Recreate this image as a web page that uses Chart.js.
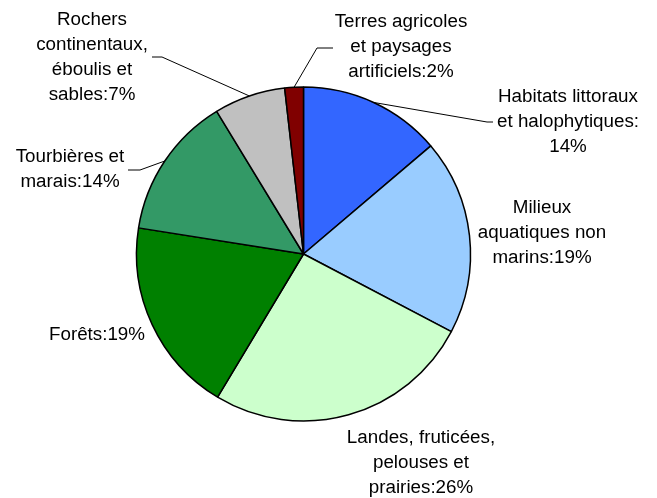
<!DOCTYPE html>
<html>
<head>
<meta charset="utf-8">
<script src="https://cdn.jsdelivr.net/npm/chart.js@4/dist/chart.umd.min.js"></script>
<style>
  html, body { margin: 0; padding: 0; background: #fff; }
  #wrap { width: 657px; height: 498px; }
</style>
</head>
<body>
<div id="wrap"><canvas id="pie" width="657" height="498"></canvas></div>
<script>
// categories, in drawing order (clockwise from 12 o'clock)
const categories = [
    "Habitats littoraux et halophytiques",
    "Milieux aquatiques non marins",
    "Landes, fruticées, pelouses et prairies",
    "Forêts",
    "Tourbières et marais",
    "Rochers continentaux, éboulis et sables",
    "Terres agricoles et paysages artificiels"
];
// shares (%)
const values = [13.8, 18.9, 25.9, 18.9, 13.8, 6.9, 1.8];
const colors = ["#3366FF", "#99CCFF", "#CCFFCC", "#008000", "#339966", "#C0C0C0", "#800000"];

// how each label is wrapped in the picture
const labelLines = [
    ["Habitats littoraux", "et halophytiques:", ""],
    ["Milieux", "aquatiques non", "marins:"],
    ["Landes, fruticées,", "pelouses et", "prairies:"],
    ["Forêts:"],
    ["Tourbières et", "marais:"],
    ["Rochers", "continentaux,", "éboulis et", "sables:"],
    ["Terres agricoles", "et paysages", "artificiels:"]
];
// label block placement (centre x, first line y) and leader line elbows
const labelPos = [
    { x: 568, y: 97, leader: [[487, 122], [493, 122]] },
    { x: 542, y: 208 },
    { x: 421, y: 438 },
    { x: 97, y: 335 },
    { x: 70, y: 157, leader: [[140, 170], [128, 170]] },
    { x: 92, y: 20, leader: [[162, 57], [152, 57]] },
    { x: 401, y: 22, leader: [[317, 48], [333, 48]] }
];
const LINE_H = 25;

const pieLabels = {
    id: "pieLabels",
    afterDatasetsDraw(chart) {
        const ctx = chart.ctx;
        const meta = chart.getDatasetMeta(0);
        const ds = chart.data.datasets[0].data;
        const total = ds.reduce((a, b) => a + b, 0);
        ctx.save();
        meta.data.forEach((arc, i) => {
            const pos = labelPos[i];
            const p = arc.getProps(["x", "y", "startAngle", "endAngle", "outerRadius"], true);
            const mid = (p.startAngle + p.endAngle) / 2;
            if (pos.leader) {
                ctx.strokeStyle = "#000";
                ctx.lineWidth = 1;
                ctx.beginPath();
                ctx.moveTo(p.x + Math.cos(mid) * p.outerRadius, p.y + Math.sin(mid) * p.outerRadius);
                pos.leader.forEach(pt => ctx.lineTo(pt[0], pt[1]));
                ctx.stroke();
            }
            const pct = Math.round(ds[i] / total * 100) + "%";
            const lines = labelLines[i].slice();
            lines[lines.length - 1] += pct;
            ctx.fillStyle = "#000";
            ctx.font = "18.8px 'Liberation Sans', Arial, sans-serif";
            ctx.textAlign = "center";
            ctx.textBaseline = "middle";
            lines.forEach((t, k) => ctx.fillText(t, pos.x, pos.y + k * LINE_H));
        });
        ctx.restore();
    }
};

new Chart(document.getElementById("pie").getContext("2d"), {
    type: "pie",
    data: {
        labels: categories,
        datasets: [
            {
                data: values,
                backgroundColor: colors,
                borderColor: "#000",
                borderWidth: 1.5,
            },
        ],
    },
    options: {
        responsive: false,
        animation: false,
        radius: 167,
        layout: {
            padding: { left: 0, right: 50, top: 10, bottom: 0 },
        },
        plugins: {
            legend: { display: false },
            tooltip: { enabled: false },
        },
    },
    plugins: [pieLabels],
});
</script>
</body>
</html>
